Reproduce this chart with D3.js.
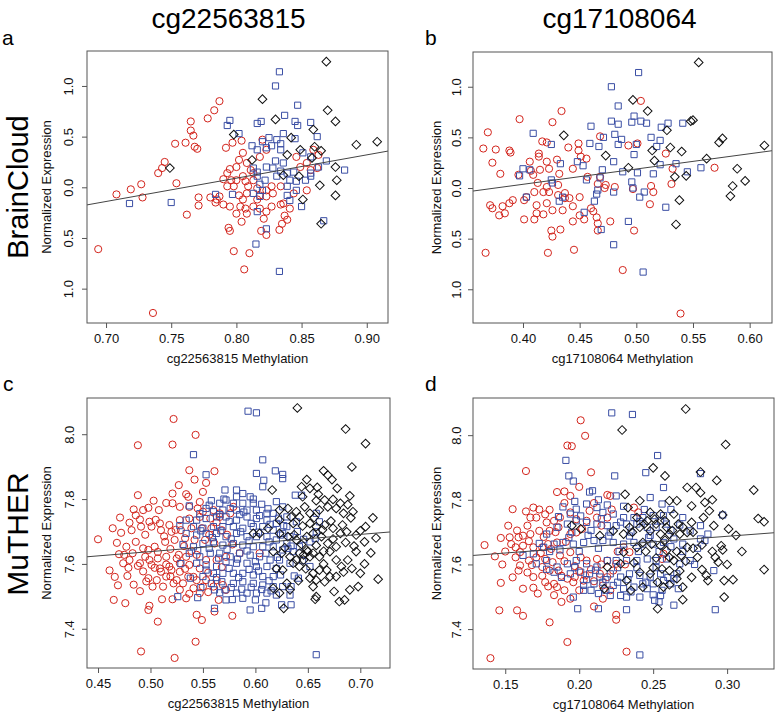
<!DOCTYPE html>
<html><head><meta charset="utf-8">
<script src="https://cdn.jsdelivr.net/npm/d3@7"></script>
<style>
body{margin:0;background:#fff}
svg{display:block}
text{font-family:"Liberation Sans",Arial,Helvetica,sans-serif}
</style>
</head><body>
<svg id="chart" width="778" height="713"></svg>
<script>
// ---------- tick values and labels ----------
const aXTicks = [0.70, 0.75, 0.80, 0.85, 0.90];
const aXLabels = ["0.70", "0.75", "0.80", "0.85", "0.90"];
const bXTicks = [0.40, 0.45, 0.50, 0.55, 0.60];
const bXLabels = ["0.40", "0.45", "0.50", "0.55", "0.60"];
const cXTicks = [0.45, 0.50, 0.55, 0.60, 0.65, 0.70];
const cXLabels = ["0.45", "0.50", "0.55", "0.60", "0.65", "0.70"];
const dXTicks = [0.15, 0.20, 0.25, 0.30];
const dXLabels = ["0.15", "0.20", "0.25", "0.30"];
const abYTicks = [-1.0, -0.5, 0.0, 0.5, 1.0];
const abYLabels = ["1.0", "0.5", "0.0", "0.5", "1.0"];   // minus signs are missing in the source figure
const cdYTicks = [7.4, 7.6, 7.8, 8.0];
const cdYLabels = ["7.4", "7.6", "7.8", "8.0"];

// ---------- regression lines: [intercept, slope] ----------
const fitA = [-1.750, 2.30];
const fitB = [-0.567, 1.509];
const fitC = [7.5055, 0.265];
const fitD = [7.5836, 0.345];

// ---------- panel a : BrainCloud, cg22563815 ----------
const aRed = [[0.787,0.85],[0.783,0.76],[0.765,0.65],[0.778,0.68],[0.765,0.56],[0.767,0.51],[0.753,0.43],[0.761,0.44],[0.768,0.40],[0.770,0.38],[0.792,0.39],[0.797,0.44],[0.804,0.46],[0.805,0.34],[0.745,0.25],[0.743,0.19],[0.740,0.14],[0.727,0.03],[0.719,-0.02],[0.708,-0.07],[0.728,-0.10],[0.754,0.04],[0.771,-0.10],[0.771,-0.18],[0.762,-0.27],[0.780,-0.10],[0.784,-0.15],[0.790,-0.17],[0.795,-0.19],[0.802,-0.08],[0.798,0.01],[0.790,0.08],[0.793,0.14],[0.795,0.18],[0.800,0.20],[0.802,0.27],[0.808,0.24],[0.811,0.17],[0.805,0.11],[0.813,0.07],[0.809,0.01],[0.808,-0.06],[0.805,-0.12],[0.803,-0.19],[0.800,-0.26],[0.804,-0.34],[0.808,-0.26],[0.813,-0.19],[0.816,-0.12],[0.818,-0.21],[0.821,-0.31],[0.823,-0.24],[0.827,-0.19],[0.834,-0.17],[0.836,-0.16],[0.841,-0.21],[0.837,-0.28],[0.839,-0.32],[0.835,-0.36],[0.833,-0.42],[0.819,-0.43],[0.823,-0.47],[0.794,-0.40],[0.795,-0.43],[0.798,-0.63],[0.810,-0.65],[0.806,-0.81],[0.694,-0.61],[0.736,-1.24],[0.818,0.30],[0.820,0.47],[0.823,0.37],[0.827,0.01],[0.823,-0.03],[0.828,-0.06],[0.844,-0.06],[0.834,0.01],[0.846,0.30],[0.849,0.20],[0.854,0.24],[0.859,0.37],[0.863,0.32],[0.857,0.17],[0.862,0.19],[0.854,-0.03],[0.813,0.14],[0.816,-0.01],[0.807,-0.21],[0.793,0.01],[0.787,-0.09],[0.785,-0.12],[0.800,0.07],[0.796,0.07],[0.807,0.06],[0.818,-0.08],[0.823,-0.09]];
const aBlue = [[0.833,1.14],[0.830,1.00],[0.847,0.81],[0.837,0.71],[0.795,0.66],[0.793,0.61],[0.816,0.63],[0.819,0.65],[0.845,0.65],[0.847,0.61],[0.857,0.64],[0.802,0.53],[0.836,0.53],[0.862,0.50],[0.845,0.48],[0.825,0.49],[0.831,0.47],[0.812,0.41],[0.820,0.45],[0.834,0.43],[0.827,0.41],[0.823,0.39],[0.816,0.37],[0.834,0.37],[0.851,0.34],[0.857,0.30],[0.869,0.26],[0.830,0.26],[0.836,0.24],[0.813,0.19],[0.816,0.15],[0.823,0.20],[0.828,0.19],[0.834,0.16],[0.839,0.14],[0.844,0.15],[0.857,0.14],[0.863,0.20],[0.883,0.17],[0.816,0.11],[0.822,0.07],[0.831,0.11],[0.841,0.07],[0.846,0.06],[0.857,0.11],[0.853,0.07],[0.818,0.03],[0.839,0.01],[0.846,-0.03],[0.820,-0.03],[0.813,-0.06],[0.784,-0.07],[0.797,-0.07],[0.839,-0.08],[0.841,-0.13],[0.850,-0.19],[0.818,-0.09],[0.718,-0.16],[0.750,-0.15],[0.816,-0.24],[0.867,-0.33],[0.823,-0.41],[0.815,-0.56],[0.833,-0.83]];
const aBlack = [[0.869,1.24],[0.820,0.87],[0.870,0.76],[0.830,0.67],[0.876,0.65],[0.859,0.57],[0.798,0.52],[0.842,0.49],[0.892,0.42],[0.908,0.45],[0.860,0.40],[0.865,0.36],[0.849,0.37],[0.839,0.32],[0.858,0.29],[0.812,0.27],[0.749,0.19],[0.876,0.20],[0.836,0.12],[0.848,0.11],[0.864,0.02],[0.877,0.07],[0.876,-0.08],[0.851,-0.12],[0.865,-0.36]];

// ---------- panel b : BrainCloud, cg17108064 ----------
const bRed = [[0.369,0.55],[0.397,0.68],[0.426,0.65],[0.434,0.76],[0.504,0.86],[0.365,0.39],[0.376,0.38],[0.388,0.37],[0.389,0.35],[0.373,0.25],[0.380,0.14],[0.417,0.46],[0.421,0.45],[0.414,0.34],[0.414,0.31],[0.406,0.26],[0.421,0.26],[0.430,0.28],[0.440,0.40],[0.449,0.44],[0.449,0.37],[0.451,0.31],[0.456,0.29],[0.468,0.51],[0.493,0.42],[0.501,0.44],[0.526,0.34],[0.532,0.19],[0.531,0.04],[0.569,0.20],[0.396,0.13],[0.407,0.17],[0.409,0.13],[0.415,0.18],[0.423,0.19],[0.432,0.14],[0.444,0.19],[0.413,0.05],[0.421,0.01],[0.431,0.03],[0.437,-0.05],[0.410,-0.04],[0.418,-0.04],[0.423,-0.04],[0.403,-0.09],[0.391,-0.12],[0.382,-0.18],[0.388,-0.15],[0.371,-0.17],[0.373,-0.20],[0.379,-0.27],[0.384,-0.25],[0.401,-0.12],[0.412,-0.17],[0.421,-0.15],[0.431,-0.07],[0.441,-0.10],[0.450,-0.09],[0.444,-0.18],[0.450,-0.27],[0.454,-0.31],[0.444,-0.33],[0.412,-0.25],[0.418,-0.26],[0.426,-0.22],[0.401,-0.31],[0.410,-0.31],[0.435,-0.22],[0.462,-0.23],[0.465,-0.29],[0.466,-0.35],[0.466,-0.42],[0.477,-0.33],[0.481,0.01],[0.473,0.03],[0.468,0.11],[0.457,0.11],[0.466,0.04],[0.472,0.00],[0.497,-0.01],[0.513,0.02],[0.515,-0.04],[0.512,-0.16],[0.498,-0.42],[0.433,-0.41],[0.425,-0.42],[0.426,-0.48],[0.445,-0.61],[0.422,-0.64],[0.367,-0.64],[0.488,-0.81],[0.539,-1.24],[0.460,-0.20],[0.437,-0.10]];
const bBlue = [[0.502,1.14],[0.478,1.00],[0.484,0.81],[0.498,0.71],[0.478,0.66],[0.484,0.63],[0.496,0.65],[0.504,0.66],[0.509,0.64],[0.528,0.64],[0.541,0.64],[0.522,0.60],[0.409,0.54],[0.460,0.61],[0.471,0.50],[0.481,0.53],[0.487,0.48],[0.513,0.50],[0.521,0.47],[0.425,0.43],[0.459,0.44],[0.467,0.41],[0.484,0.43],[0.500,0.43],[0.518,0.41],[0.498,0.33],[0.480,0.26],[0.448,0.26],[0.453,0.22],[0.433,0.24],[0.400,0.19],[0.406,0.18],[0.470,0.18],[0.488,0.16],[0.501,0.15],[0.515,0.14],[0.521,0.23],[0.535,0.24],[0.545,0.16],[0.557,0.20],[0.397,0.12],[0.425,0.08],[0.456,0.08],[0.468,0.10],[0.496,0.06],[0.497,0.00],[0.426,0.05],[0.466,-0.02],[0.465,-0.06],[0.480,-0.04],[0.507,-0.04],[0.403,-0.09],[0.432,-0.13],[0.435,-0.09],[0.454,-0.24],[0.463,-0.13],[0.493,-0.33],[0.526,-0.19],[0.503,-0.09],[0.469,-0.41],[0.480,-0.56],[0.506,-0.83]];
const bBlack = [[0.555,1.24],[0.497,0.87],[0.510,0.76],[0.550,0.67],[0.548,0.66],[0.527,0.57],[0.436,0.52],[0.576,0.49],[0.573,0.45],[0.613,0.42],[0.530,0.40],[0.540,0.36],[0.514,0.37],[0.473,0.32],[0.562,0.29],[0.516,0.27],[0.493,0.20],[0.589,0.19],[0.534,0.11],[0.544,0.12],[0.596,0.07],[0.585,0.02],[0.583,-0.08],[0.538,-0.12],[0.535,-0.36]];

// ---------- panel c : MuTHER, cg22563815 ----------
const cRed = [[0.522,8.047],[0.543,7.998],[0.488,7.966],[0.521,7.968],[0.561,7.886],[0.537,7.889],[0.542,7.860],[0.553,7.850],[0.527,7.843],[0.488,7.812],[0.521,7.817],[0.521,7.787],[0.534,7.815],[0.536,7.807],[0.550,7.822],[0.484,7.768],[0.493,7.766],[0.498,7.773],[0.508,7.766],[0.528,7.776],[0.537,7.776],[0.545,7.771],[0.550,7.761],[0.560,7.766],[0.471,7.743],[0.480,7.727],[0.490,7.737],[0.499,7.730],[0.509,7.725],[0.518,7.720],[0.528,7.735],[0.537,7.740],[0.547,7.745],[0.557,7.740],[0.566,7.745],[0.576,7.756],[0.579,7.776],[0.450,7.676],[0.468,7.665],[0.472,7.696],[0.482,7.704],[0.491,7.715],[0.501,7.715],[0.510,7.704],[0.520,7.699],[0.529,7.704],[0.539,7.710],[0.549,7.710],[0.558,7.710],[0.568,7.704],[0.477,7.653],[0.475,7.628],[0.483,7.633],[0.493,7.648],[0.498,7.643],[0.504,7.653],[0.514,7.668],[0.523,7.674],[0.533,7.679],[0.542,7.674],[0.552,7.674],[0.561,7.663],[0.474,7.602],[0.480,7.612],[0.490,7.602],[0.499,7.612],[0.507,7.617],[0.515,7.622],[0.525,7.617],[0.534,7.622],[0.544,7.628],[0.553,7.612],[0.563,7.612],[0.572,7.622],[0.585,7.633],[0.604,7.633],[0.488,7.594],[0.501,7.597],[0.509,7.586],[0.518,7.592],[0.528,7.602],[0.537,7.597],[0.547,7.586],[0.510,7.576],[0.520,7.581],[0.528,7.576],[0.498,7.556],[0.506,7.550],[0.515,7.561],[0.525,7.550],[0.536,7.561],[0.544,7.550],[0.553,7.550],[0.563,7.550],[0.478,7.563],[0.469,7.534],[0.490,7.516],[0.502,7.530],[0.512,7.530],[0.522,7.540],[0.531,7.540],[0.541,7.525],[0.550,7.530],[0.560,7.530],[0.569,7.535],[0.572,7.520],[0.465,7.489],[0.476,7.479],[0.499,7.471],[0.498,7.458],[0.511,7.491],[0.521,7.491],[0.534,7.494],[0.547,7.510],[0.565,7.489],[0.561,7.453],[0.544,7.443],[0.549,7.427],[0.578,7.440],[0.507,7.422],[0.566,7.756],[0.491,7.33],[0.523,7.31],[0.543,7.36],
  [0.486,7.750],[0.495,7.690],[0.505,7.736],[0.513,7.685],[0.524,7.705],[0.532,7.655],[0.486,7.668],[0.495,7.622],[0.507,7.637],[0.519,7.646],[0.527,7.628],[0.539,7.640],[0.556,7.690],[0.563,7.728],[0.479,7.588],[0.493,7.577],[0.504,7.588],[0.515,7.598],[0.533,7.585],[0.541,7.560],[0.555,7.573],[0.568,7.590],[0.484,7.536],[0.496,7.546],[0.519,7.562],[0.528,7.520],[0.537,7.508],[0.555,7.513],[0.464,7.710],[0.470,7.630],[0.461,7.580],[0.466,7.560],[0.547,7.791],[0.515,7.788],[0.503,7.795],[0.573,7.690],[0.578,7.660]];
const cBlue = [[0.593,8.071],[0.601,8.066],[0.541,7.937],[0.607,7.921],[0.553,7.875],[0.601,7.879],[0.619,7.887],[0.626,7.876],[0.626,7.863],[0.608,7.858],[0.607,7.838],[0.638,7.812],[0.644,7.812],[0.571,7.828],[0.582,7.828],[0.588,7.817],[0.595,7.807],[0.582,7.807],[0.572,7.797],[0.566,7.787],[0.579,7.787],[0.588,7.787],[0.598,7.787],[0.606,7.784],[0.620,7.792],[0.537,7.779],[0.553,7.771],[0.560,7.761],[0.569,7.766],[0.576,7.771],[0.582,7.766],[0.592,7.766],[0.601,7.766],[0.611,7.756],[0.617,7.756],[0.626,7.776],[0.630,7.745],[0.658,7.756],[0.661,7.730],[0.639,7.730],[0.534,7.735],[0.544,7.735],[0.553,7.740],[0.563,7.745],[0.572,7.745],[0.582,7.735],[0.592,7.745],[0.601,7.740],[0.611,7.735],[0.620,7.725],[0.630,7.715],[0.541,7.715],[0.550,7.710],[0.560,7.715],[0.569,7.715],[0.579,7.715],[0.588,7.710],[0.598,7.715],[0.607,7.715],[0.617,7.704],[0.626,7.694],[0.633,7.684],[0.658,7.699],[0.534,7.694],[0.544,7.689],[0.553,7.694],[0.563,7.694],[0.572,7.684],[0.582,7.694],[0.592,7.684],[0.601,7.684],[0.611,7.684],[0.620,7.674],[0.630,7.663],[0.642,7.653],[0.652,7.668],[0.657,7.679],[0.541,7.653],[0.550,7.663],[0.560,7.668],[0.569,7.658],[0.579,7.663],[0.588,7.658],[0.598,7.653],[0.607,7.653],[0.617,7.653],[0.626,7.643],[0.636,7.638],[0.652,7.592],[0.537,7.633],[0.547,7.622],[0.557,7.633],[0.566,7.633],[0.576,7.622],[0.585,7.633],[0.595,7.627],[0.604,7.622],[0.614,7.612],[0.623,7.612],[0.633,7.602],[0.544,7.602],[0.553,7.597],[0.563,7.592],[0.572,7.607],[0.582,7.602],[0.592,7.602],[0.601,7.592],[0.611,7.592],[0.620,7.586],[0.560,7.571],[0.569,7.571],[0.579,7.571],[0.588,7.571],[0.598,7.566],[0.607,7.561],[0.617,7.561],[0.550,7.561],[0.558,7.540],[0.568,7.545],[0.579,7.540],[0.588,7.545],[0.598,7.540],[0.607,7.535],[0.617,7.530],[0.626,7.530],[0.634,7.530],[0.641,7.556],[0.561,7.520],[0.571,7.520],[0.582,7.510],[0.592,7.510],[0.601,7.510],[0.611,7.510],[0.620,7.504],[0.633,7.504],[0.526,7.499],[0.545,7.496],[0.572,7.489],[0.588,7.494],[0.600,7.489],[0.595,7.458],[0.606,7.463],[0.625,7.474],[0.634,7.474],[0.561,7.463],[0.658,7.32],
  [0.556,7.781],[0.566,7.752],[0.575,7.731],[0.585,7.752],[0.596,7.725],[0.604,7.749],[0.614,7.722],[0.622,7.741],[0.548,7.702],[0.559,7.681],[0.567,7.702],[0.577,7.677],[0.586,7.699],[0.594,7.671],[0.603,7.698],[0.613,7.668],[0.624,7.689],[0.545,7.641],[0.556,7.648],[0.565,7.618],[0.573,7.645],[0.583,7.615],[0.592,7.640],[0.600,7.607],[0.610,7.633],[0.621,7.620],[0.631,7.648],[0.553,7.581],[0.563,7.558],[0.575,7.586],[0.584,7.558],[0.594,7.583],[0.603,7.578],[0.613,7.548],[0.624,7.566],[0.566,7.511],[0.577,7.527],[0.587,7.522],[0.596,7.528],[0.606,7.521],[0.615,7.517],[0.528,7.718],[0.531,7.660],[0.529,7.601],[0.538,7.556],[0.548,7.527],[0.558,7.795],[0.598,7.800],[0.612,7.770],[0.640,7.700],[0.646,7.676],[0.645,7.610],[0.637,7.563],[0.578,7.490],[0.610,7.480],[0.547,7.755],[0.589,7.760],[0.627,7.718],[0.634,7.655],[0.570,7.800]];
const cBlack = [[0.640,8.081],[0.686,8.016],[0.705,7.971],[0.692,7.899],[0.665,7.887],[0.669,7.874],[0.673,7.860],[0.649,7.860],[0.616,7.828],[0.644,7.838],[0.652,7.833],[0.659,7.836],[0.678,7.833],[0.645,7.807],[0.658,7.795],[0.666,7.797],[0.674,7.799],[0.681,7.787],[0.688,7.783],[0.693,7.761],[0.712,7.742],[0.623,7.766],[0.631,7.771],[0.639,7.761],[0.647,7.776],[0.652,7.756],[0.661,7.766],[0.669,7.776],[0.677,7.771],[0.684,7.756],[0.623,7.735],[0.636,7.725],[0.642,7.745],[0.652,7.725],[0.658,7.715],[0.666,7.720],[0.674,7.710],[0.681,7.694],[0.687,7.699],[0.696,7.689],[0.704,7.668],[0.700,7.702],[0.612,7.710],[0.604,7.694],[0.598,7.694],[0.623,7.694],[0.631,7.684],[0.639,7.674],[0.649,7.684],[0.655,7.694],[0.663,7.684],[0.669,7.663],[0.677,7.653],[0.617,7.638],[0.625,7.633],[0.633,7.622],[0.639,7.612],[0.642,7.633],[0.649,7.643],[0.652,7.622],[0.646,7.612],[0.655,7.633],[0.661,7.622],[0.671,7.638],[0.677,7.612],[0.682,7.592],[0.688,7.612],[0.696,7.638],[0.692,7.586],[0.700,7.571],[0.717,7.553],[0.626,7.581],[0.636,7.602],[0.655,7.571],[0.661,7.581],[0.668,7.581],[0.671,7.561],[0.677,7.561],[0.652,7.556],[0.658,7.550],[0.617,7.525],[0.630,7.540],[0.655,7.530],[0.666,7.545],[0.698,7.530],[0.658,7.499],[0.657,7.491],[0.680,7.484],[0.685,7.489],[0.627,7.463],[0.623,7.510],[0.642,7.592],[0.646,7.628],[0.650,7.638],
  [0.634,7.745],[0.645,7.717],[0.656,7.743],[0.664,7.705],[0.672,7.732],[0.683,7.720],[0.691,7.742],[0.628,7.650],[0.637,7.690],[0.644,7.660],[0.658,7.657],[0.665,7.639],[0.674,7.677],[0.686,7.666],[0.694,7.655],[0.704,7.600],[0.684,7.575],[0.665,7.600],[0.648,7.585],[0.641,7.548],[0.633,7.520],[0.690,7.520],[0.710,7.634],[0.715,7.680],[0.705,7.715],[0.660,7.815],[0.690,7.810],[0.620,7.585],[0.675,7.515]];

// ---------- panel d : MuTHER, cg17108064 ----------
const dRed = [[0.201,8.046],[0.204,7.998],[0.192,7.968],[0.195,7.966],[0.164,7.889],[0.208,7.885],[0.200,7.840],[0.185,7.824],[0.190,7.826],[0.194,7.812],[0.219,7.815],[0.221,7.812],[0.155,7.771],[0.164,7.764],[0.169,7.776],[0.173,7.770],[0.180,7.769],[0.167,7.745],[0.171,7.745],[0.178,7.730],[0.183,7.735],[0.186,7.715],[0.180,7.704],[0.173,7.704],[0.165,7.720],[0.162,7.689],[0.159,7.684],[0.167,7.694],[0.136,7.660],[0.147,7.682],[0.153,7.684],[0.154,7.663],[0.157,7.653],[0.162,7.658],[0.169,7.653],[0.175,7.653],[0.179,7.663],[0.185,7.668],[0.194,7.694],[0.198,7.699],[0.202,7.710],[0.205,7.735],[0.207,7.766],[0.212,7.745],[0.219,7.745],[0.194,7.761],[0.198,7.740],[0.187,7.745],[0.148,7.600],[0.157,7.622],[0.159,7.581],[0.166,7.612],[0.171,7.622],[0.177,7.617],[0.182,7.607],[0.187,7.628],[0.194,7.638],[0.201,7.622],[0.205,7.612],[0.212,7.617],[0.219,7.612],[0.225,7.602],[0.230,7.653],[0.234,7.638],[0.237,7.776],[0.240,7.761],[0.160,7.597],[0.175,7.592],[0.180,7.581],[0.186,7.581],[0.169,7.561],[0.177,7.545],[0.183,7.540],[0.192,7.556],[0.197,7.561],[0.204,7.566],[0.214,7.571],[0.219,7.561],[0.223,7.581],[0.147,7.543],[0.162,7.525],[0.169,7.528],[0.179,7.532],[0.185,7.530],[0.190,7.520],[0.196,7.545],[0.203,7.550],[0.216,7.535],[0.221,7.520],[0.188,7.484],[0.194,7.494],[0.216,7.494],[0.210,7.470],[0.146,7.458],[0.158,7.458],[0.162,7.441],[0.180,7.421],[0.225,7.444],[0.225,7.429],[0.257,7.633],[0.256,7.617],[0.140,7.31],[0.192,7.36],[0.232,7.33],
  [0.158,7.705],[0.166,7.672],[0.176,7.685],[0.184,7.700],[0.191,7.670],[0.150,7.640],[0.160,7.638],[0.168,7.598],[0.174,7.635],[0.181,7.648],[0.190,7.610],[0.197,7.595],[0.208,7.585],[0.215,7.600],[0.155,7.560],[0.165,7.575],[0.175,7.565],[0.188,7.565],[0.200,7.580],[0.210,7.548],[0.172,7.510],[0.183,7.505],[0.200,7.520],[0.177,7.755],[0.190,7.790],[0.210,7.790],[0.222,7.770],[0.215,7.720],[0.226,7.640],[0.231,7.600],[0.152,7.720],[0.143,7.625]];
const dBlue = [[0.222,8.069],[0.236,8.064],[0.253,7.937],[0.191,7.922],[0.245,7.884],[0.224,7.874],[0.193,7.874],[0.196,7.858],[0.207,7.824],[0.209,7.828],[0.257,7.838],[0.282,7.881],[0.219,7.784],[0.225,7.812],[0.248,7.807],[0.256,7.787],[0.189,7.778],[0.194,7.756],[0.198,7.771],[0.205,7.787],[0.212,7.776],[0.216,7.761],[0.223,7.756],[0.230,7.745],[0.237,7.745],[0.243,7.745],[0.250,7.751],[0.257,7.751],[0.178,7.694],[0.185,7.715],[0.192,7.725],[0.198,7.735],[0.205,7.730],[0.212,7.725],[0.219,7.720],[0.225,7.720],[0.232,7.725],[0.239,7.725],[0.246,7.715],[0.252,7.715],[0.259,7.725],[0.270,7.745],[0.275,7.704],[0.282,7.679],[0.287,7.694],[0.285,7.674],[0.297,7.753],[0.162,7.628],[0.169,7.633],[0.176,7.653],[0.183,7.663],[0.189,7.668],[0.196,7.663],[0.203,7.668],[0.210,7.674],[0.216,7.674],[0.223,7.668],[0.230,7.663],[0.237,7.668],[0.243,7.663],[0.250,7.663],[0.257,7.668],[0.264,7.679],[0.270,7.663],[0.171,7.602],[0.178,7.612],[0.185,7.592],[0.192,7.602],[0.198,7.612],[0.205,7.602],[0.212,7.592],[0.219,7.612],[0.225,7.612],[0.232,7.612],[0.239,7.612],[0.246,7.617],[0.252,7.612],[0.259,7.617],[0.268,7.602],[0.275,7.612],[0.183,7.576],[0.194,7.571],[0.201,7.576],[0.207,7.571],[0.214,7.561],[0.221,7.571],[0.228,7.561],[0.234,7.571],[0.241,7.566],[0.248,7.561],[0.255,7.571],[0.266,7.571],[0.291,7.581],[0.203,7.535],[0.210,7.540],[0.216,7.545],[0.223,7.535],[0.230,7.525],[0.237,7.530],[0.243,7.540],[0.250,7.540],[0.257,7.550],[0.264,7.556],[0.267,7.525],[0.196,7.499],[0.203,7.520],[0.213,7.510],[0.221,7.504],[0.228,7.504],[0.232,7.499],[0.241,7.499],[0.250,7.506],[0.255,7.504],[0.213,7.463],[0.199,7.463],[0.251,7.489],[0.254,7.484],[0.264,7.474],[0.292,7.460],[0.232,7.460],[0.241,7.32],
  [0.186,7.748],[0.195,7.700],[0.201,7.750],[0.208,7.705],[0.215,7.741],[0.221,7.700],[0.228,7.731],[0.235,7.700],[0.241,7.733],[0.248,7.690],[0.255,7.735],[0.262,7.705],[0.268,7.722],[0.173,7.665],[0.180,7.640],[0.187,7.645],[0.193,7.683],[0.200,7.640],[0.206,7.690],[0.213,7.650],[0.220,7.688],[0.227,7.640],[0.234,7.688],[0.240,7.640],[0.247,7.683],[0.254,7.640],[0.262,7.655],[0.270,7.640],[0.178,7.585],[0.188,7.560],[0.197,7.590],[0.205,7.553],[0.211,7.582],[0.218,7.553],[0.226,7.590],[0.233,7.553],[0.239,7.590],[0.245,7.545],[0.252,7.590],[0.260,7.560],[0.278,7.600],[0.208,7.520],[0.218,7.520],[0.226,7.545],[0.235,7.515],[0.246,7.525],[0.256,7.520],[0.262,7.540],[0.230,7.780],[0.244,7.770],[0.262,7.770],[0.213,7.800],[0.197,7.795],[0.280,7.650],[0.282,7.720]];
const dBlack = [[0.272,8.081],[0.229,8.016],[0.299,7.971],[0.250,7.899],[0.258,7.874],[0.282,7.886],[0.293,7.860],[0.318,7.830],[0.273,7.838],[0.279,7.838],[0.282,7.822],[0.231,7.817],[0.241,7.797],[0.233,7.776],[0.261,7.797],[0.266,7.797],[0.276,7.781],[0.285,7.792],[0.288,7.766],[0.297,7.753],[0.321,7.742],[0.325,7.732],[0.248,7.761],[0.255,7.756],[0.264,7.756],[0.239,7.745],[0.246,7.735],[0.252,7.725],[0.259,7.715],[0.267,7.725],[0.276,7.730],[0.301,7.710],[0.214,7.689],[0.223,7.704],[0.230,7.694],[0.234,7.715],[0.241,7.715],[0.248,7.704],[0.255,7.694],[0.261,7.694],[0.268,7.694],[0.273,7.699],[0.195,7.720],[0.201,7.710],[0.230,7.638],[0.239,7.653],[0.243,7.668],[0.249,7.663],[0.255,7.658],[0.259,7.643],[0.261,7.622],[0.264,7.612],[0.269,7.628],[0.273,7.653],[0.280,7.622],[0.292,7.622],[0.294,7.607],[0.296,7.658],[0.297,7.645],[0.325,7.584],[0.219,7.592],[0.228,7.602],[0.241,7.576],[0.248,7.571],[0.256,7.586],[0.261,7.581],[0.266,7.556],[0.283,7.584],[0.286,7.566],[0.287,7.550],[0.298,7.550],[0.304,7.553],[0.232,7.550],[0.243,7.530],[0.257,7.530],[0.261,7.537],[0.217,7.525],[0.270,7.491],[0.298,7.499],[0.253,7.463],
  [0.236,7.700],[0.244,7.725],[0.251,7.740],[0.258,7.735],[0.263,7.705],[0.270,7.716],[0.277,7.700],[0.284,7.745],[0.291,7.720],[0.245,7.640],[0.252,7.620],[0.258,7.675],[0.266,7.640],[0.272,7.610],[0.277,7.650],[0.283,7.660],[0.290,7.640],[0.300,7.600],[0.237,7.605],[0.250,7.590],[0.268,7.580],[0.276,7.560],[0.253,7.545],[0.235,7.520],[0.270,7.530],[0.310,7.640],[0.306,7.690],[0.290,7.800]];

// ---------- layout ----------
const RED = "#d3241c", BLUE = "#3a4ea4", BLACK = "#111";
const panels = [
  {letter:"a", lx:2, ly:45, left:87, right:388, top:51, bottom:323, xd:[0.6854,0.9163], yd:[-1.339,1.345],
   xt:aXTicks, xl:aXLabels, yt:abYTicks, yl:abYLabels, red:aRed, blue:aBlue, black:aBlack, fit:fitA,
   xTitle:"cg22563815 Methylation", labOff:14, titleOff:36},
  {letter:"b", lx:425, ly:45, left:473, right:772, top:52, bottom:323, xd:[0.3559,0.6197], yd:[-1.333,1.343],
   xt:bXTicks, xl:bXLabels, yt:abYTicks, yl:abYLabels, red:bRed, blue:bBlue, black:bBlack, fit:fitB,
   xTitle:"cg17108064 Methylation", labOff:12, titleOff:32},
  {letter:"c", lx:3, ly:391, left:87, right:390, top:398, bottom:668, xd:[0.4395,0.7283], yd:[7.279,8.1117],
   xt:cXTicks, xl:cXLabels, yt:cdYTicks, yl:cdYLabels, red:cRed, blue:cBlue, black:cBlack, fit:fitC,
   xTitle:"cg22563815 Methylation", labOff:13, titleOff:36},
  {letter:"d", lx:425, ly:391, left:473, right:774, top:398, bottom:669, xd:[0.1282,0.3317], yd:[7.2765,8.115],
   xt:dXTicks, xl:dXLabels, yt:cdYTicks, yl:cdYLabels, red:dRed, blue:dBlue, black:dBlack, fit:fitD,
   xTitle:"cg17108064 Methylation", labOff:12, titleOff:32}
];

const svg = d3.select("#chart");
svg.append("rect").attr("width",778).attr("height",713).attr("fill","#fff");

// column titles and row labels
svg.append("text").attr("x",228.5).attr("y",28).attr("text-anchor","middle").attr("font-size",28).attr("fill","#000").text("cg22563815");
svg.append("text").attr("x",619.5).attr("y",28).attr("text-anchor","middle").attr("font-size",28).attr("fill","#000").text("cg17108064");
svg.append("text").attr("transform","translate(28,187) rotate(-90)").attr("text-anchor","middle").attr("font-size",29).attr("fill","#000").text("BrainCloud");
svg.append("text").attr("transform","translate(28,534) rotate(-90)").attr("text-anchor","middle").attr("font-size",30).attr("fill","#000").text("MuTHER");

const sq = d3.symbol().type(d3.symbolSquare).size(38)();

panels.forEach(p => {
  const x = d3.scaleLinear().domain(p.xd).range([p.left, p.right]);
  const y = d3.scaleLinear().domain(p.yd).range([p.bottom, p.top]);
  const g = svg.append("g");

  g.append("text").attr("x",p.lx).attr("y",p.ly).attr("font-size",21).attr("fill","#000").text(p.letter);

  g.append("g").selectAll("circle").data(p.red).join("circle")
    .attr("cx",d=>x(d[0])).attr("cy",d=>y(d[1])).attr("r",3.6)
    .attr("fill","none").attr("stroke",RED).attr("stroke-width",1);
  g.append("g").selectAll("path").data(p.blue).join("path")
    .attr("d",sq).attr("transform",d=>`translate(${x(d[0])},${y(d[1])})`)
    .attr("fill","none").attr("stroke",BLUE).attr("stroke-width",1);
  g.append("g").selectAll("path").data(p.black).join("path")
    .attr("d",sq).attr("transform",d=>`translate(${x(d[0])},${y(d[1])}) rotate(45)`)
    .attr("fill","none").attr("stroke",BLACK).attr("stroke-width",1);

  const xs = p.xd;
  g.append("line")
    .attr("x1",x(xs[0])).attr("y1",y(p.fit[0]+p.fit[1]*xs[0]))
    .attr("x2",x(xs[1])).attr("y2",y(p.fit[0]+p.fit[1]*xs[1]))
    .attr("stroke","#444").attr("stroke-width",1);

  g.append("rect").attr("x",p.left).attr("y",p.top).attr("width",p.right-p.left).attr("height",p.bottom-p.top)
    .attr("fill","none").attr("stroke","#555").attr("stroke-width",1);

  const xa = g.append("g").attr("transform",`translate(0,${p.bottom})`)
    .call(d3.axisBottom(x).tickValues(p.xt).tickFormat((d,i)=>p.xl[i]).tickSize(5));
  xa.select(".domain").remove();
  xa.selectAll("line").attr("stroke","#555");
  xa.selectAll("text").attr("y",19.5).attr("dy",0).attr("font-size",13).attr("fill","#111")
    .attr("font-family",'"Liberation Sans",Arial,sans-serif');

  const ya = g.append("g").attr("transform",`translate(${p.left},0)`)
    .call(d3.axisLeft(y).tickValues(p.yt).tickFormat((d,i)=>p.yl[i]).tickSize(5));
  ya.select(".domain").remove();
  ya.selectAll("line").attr("stroke","#555");
  ya.selectAll("text").attr("transform","rotate(-90)").attr("x",0).attr("y",-p.labOff).attr("dy",0)
    .attr("text-anchor","middle").attr("font-size",13).attr("fill","#111")
    .attr("font-family",'"Liberation Sans",Arial,sans-serif');

  g.append("text").attr("x",(p.left+p.right)/2).attr("y",p.bottom+40).attr("text-anchor","middle")
    .attr("font-size",13).attr("fill","#111").text(p.xTitle);
  g.append("text").attr("transform",`translate(${p.left-p.titleOff},${(p.top+p.bottom)/2}) rotate(-90)`)
    .attr("text-anchor","middle").attr("font-size",13).attr("fill","#111").text("Normalized Expression");
});
</script>
</body></html>
